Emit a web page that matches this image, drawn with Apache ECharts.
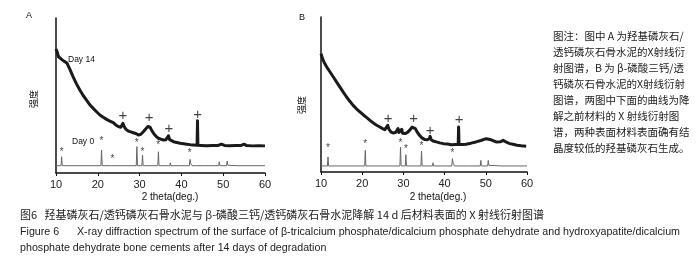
<!DOCTYPE html>
<html><head><meta charset="utf-8">
<script src="https://cdn.jsdelivr.net/npm/echarts@6/dist/echarts.min.js"></script>
<style>html,body{margin:0;padding:0;background:#fff}#c{width:700px;height:268px}</style>
</head><body><div id="c"></div>
<script>
// x range / ticks
const xMin = 10, xMax = 60, xStep = 10;

// Panel A (HA/DCPD) – Day 14 curve, [2theta, intensity a.u.]
const aDay14 = [[10.0,80],[10.3,78],[10.6,75],[11.0,74],[11.5,73],[12.0,72],[12.6,71],[13.3,67],[14.1,62],[14.9,57.5],[15.7,53.5],[16.5,50],[17.3,47],[18.1,44],[18.9,41.7],[19.7,39.5],[20.5,37.4],[21.3,36],[22.1,34.6],[22.9,33.5],[23.7,32.5],[24.3,31],[24.9,30],[25.5,29.5],[25.8,30.5],[26.0,32],[26.3,30],[26.7,28.3],[27.3,27],[27.9,26.5],[28.5,26],[29.1,25.5],[29.7,24.5],[30.3,25],[30.9,26.6],[31.5,28.5],[32.0,30],[32.5,29.5],[33.0,27],[33.5,25],[34.0,23.5],[34.5,22.4],[35.1,21.8],[35.7,21.3],[36.3,21.5],[36.7,22.5],[36.9,24],[37.2,21.5],[37.6,20.6],[38.1,20.2],[38.9,19.7],[39.7,19.2],[40.5,18.9],[41.3,18.6],[42.1,18.3],[42.9,18.1],[43.75,17.9],[43.85,33.7],[43.95,17.9],[44.8,17.8],[46,17.6],[47.5,17.7],[48.8,17.8],[49.6,18.6],[50.3,17.8],[51.5,17.6],[53,17.7],[54.3,17.8],[55.0,18.6],[55.6,17.7],[57,17.5],[58.5,17.6],[60,17.5]];
// Panel A – Day 0 curve
const aDay0 = [[10,4.7],[11.2,4.7],[11.35,10.5],[11.5,4.7],[20.75,4.7],[20.9,14.8],[21.05,4.7],[23.3,4.7],[23.4,5.5],[23.5,4.7],[29.2,4.7],[29.35,17],[29.5,4.7],[30.55,4.7],[30.7,11.6],[30.85,4.7],[34.35,4.7],[34.5,13.7],[34.65,4.7],[37.2,4.7],[37.35,6.6],[37.5,4.7],[39.5,4.7],[39.6,5.3],[39.7,4.7],[41.9,4.7],[42.05,8.8],[42.25,6],[42.4,6.5],[42.55,4.7],[43.6,4.7],[43.7,5.5],[43.8,4.7],[45.5,4.7],[45.6,5.6],[45.8,4.7],[48.9,4.7],[49.05,7.3],[49.2,4.7],[50.8,4.7],[50.95,7.7],[51.1,5],[51.3,6],[51.45,4.7],[53.5,4.7],[53.6,5.4],[53.7,4.7],[60,4.7]];
const aStars = [[11.35,13.7],[20.9,20.2],[23.5,9],[29.3,19.5],[30.7,13.7],[34.45,17.6],[42.0,12.7]];
const aPlus = [[26.0,36.8],[32.3,35.3],[37.0,28.4],[43.9,37.4]];

// Panel B (beta-TCP/DCPD) – Day 14 curve
const bDay14 = [[10,76.4],[10.4,73],[10.8,70.5],[11.4,67.7],[12.2,64.5],[13.0,61.3],[13.8,58],[14.6,54.8],[15.4,51.5],[16.2,48.4],[17.0,45.6],[17.8,43],[18.6,40.8],[19.5,38.7],[20.3,36.8],[21.1,35.1],[21.9,33.3],[22.7,31.6],[23.5,30.2],[24.3,29],[24.9,28],[25.5,27.3],[25.9,27.5],[26.2,30.1],[26.5,27.5],[27.0,25.8],[27.5,25.2],[28.1,25.5],[28.5,25.8],[28.7,28],[28.9,25.5],[29.3,25],[29.6,27.5],[29.8,25],[30.4,24.8],[31.0,25.6],[31.6,27.2],[32.1,29],[32.5,29.5],[32.9,28],[33.4,25.5],[33.9,23.7],[34.5,22],[35.2,20.9],[35.8,20.8],[36.3,21.5],[36.5,23],[36.7,21],[37.2,20],[38.0,19.4],[38.8,18.8],[39.7,18.3],[40.7,18],[41.7,17.6],[42.6,17.7],[43.3,17.8],[43.4,29],[43.5,17.8],[44.4,17.8],[45.2,17.9],[46.4,18.6],[47.6,19.4],[48.8,20.3],[50.1,21.5],[51.3,20.8],[52.5,19.4],[53.5,19.5],[54.2,20.4],[55.0,19.2],[55.8,18.3],[56.6,17.9],[57.6,17.3],[58.6,16.9],[59.8,16.6]];
// Panel B – Day 0 curve
const bDay0 = [[10,3.9],[11.55,3.9],[11.7,9.7],[11.85,3.9],[20.6,3.9],[20.75,14],[20.9,3.9],[23.3,3.9],[23.4,4.6],[23.5,3.9],[29.15,3.9],[29.3,16.1],[29.45,3.9],[30.45,3.9],[30.6,11.2],[30.75,3.9],[34.25,3.9],[34.4,13.5],[34.55,3.9],[37.05,3.9],[37.2,6],[37.35,3.9],[39.6,3.9],[39.7,4.6],[39.8,3.9],[41.75,3.9],[41.9,8.6],[42.1,5.5],[42.25,6],[42.4,3.9],[43.5,3.9],[43.6,4.6],[43.7,3.9],[45.3,3.9],[45.45,4.8],[45.6,3.9],[46,3.9],[46.1,4.5],[46.2,3.9],[48.65,3.9],[48.8,7.5],[48.95,3.9],[50.45,3.9],[50.6,7.5],[50.75,4.3],[51.0,5.5],[51.15,3.9],[53.8,3.9],[53.9,4.5],[54,3.9],[60,3.9]];
const bStars = [[11.7,15.1],[20.7,17.7],[29.3,18.7],[30.6,14.5],[34.4,16.8],[41.9,11.9]];
const bPlus = [[26.3,34.5],[32.5,34.5],[36.5,26.3],[43.5,33.8]];

// texts
const panelLabels = ['A','B'];
const curveLabels = ['Day 14','Day 0'];
const xTitle = '2 theta(deg.)';
const yTitle = '强度';
const noteText = '图注：图中 A 为羟基磷灰石/\n透钙磷灰石骨水泥的X射线衍\n射图谱，B 为 β-磷酸三钙/透\n钙磷灰石骨水泥的X射线衍射\n图谱，两图中下面的曲线为降\n解之前材料的 X 射线衍射图\n谱，两种表面材料表面确有结\n晶度较低的羟基磷灰石生成。';
const captionCN = '图6   羟基磷灰石/透钙磷灰石骨水泥与 β-磷酸三钙/透钙磷灰石骨水泥降解 14 d 后材料表面的 X 射线衍射图谱';
const captionEN1 = 'Figure 6      X-ray diffraction spectrum of the surface of β-tricalcium phosphate/dicalcium phosphate dehydrate and hydroxyapatite/dicalcium';
const captionEN2 = 'phosphate dehydrate bone cements after 14 days of degradation';

const chart = echarts.init(document.getElementById('c'), null, {renderer:'canvas'});
const axisCol = '#111';
const enFont = '"Liberation Sans", Arial, sans-serif';
const enSize = 11.5;
const mctx = document.createElement('canvas').getContext('2d');
mctx.font = enSize + 'px ' + enFont;
const enScale = 660 / mctx.measureText(captionEN1).width;

function xAxisDef(i){
  return {gridIndex:i, type:'value', min:xMin, max:xMax, interval:xStep,
    axisLine:{lineStyle:{color:axisCol,width:1.5}},
    axisTick:{show:true,length:3,lineStyle:{color:axisCol}},
    axisLabel:{color:'#222',fontSize:11,margin:6,fontFamily:'Liberation Sans, Arial'},
    splitLine:{show:false}};
}
function yAxisDef(i){
  return {gridIndex:i, type:'value', min:0, max:100,
    axisLine:{show:true,lineStyle:{color:axisCol,width:1.5}},
    axisTick:{show:false}, axisLabel:{show:false}, splitLine:{show:false}};
}
function lineS(i,data,color,w){
  return {type:'line', xAxisIndex:i, yAxisIndex:i, data:data, symbol:'none', silent:true,
    lineStyle:{color:color,width:w,join:'round'}, animation:false};
}
function markS(i,data,ch,size){
  return {type:'scatter', xAxisIndex:i, yAxisIndex:i, data:data, symbol:'circle', symbolSize:1,
    itemStyle:{color:'transparent'}, silent:true, animation:false,
    label:{show:true, position:'inside', formatter:ch, fontSize:size, color:'#111', fontFamily:'Liberation Sans, Arial'}};
}
const txt = (x,y,t,o)=>Object.assign({type:'text', x:x, y:y, style:Object.assign({text:t, fill:'#111', fontFamily:'Liberation Sans, Arial', fontSize:11}, o||{})});

chart.setOption({
  animation:false,
  grid:[{left:56, top:18, width:209, height:155},{left:321, top:17, width:206, height:155}],
  xAxis:[xAxisDef(0), xAxisDef(1)],
  yAxis:[yAxisDef(0), yAxisDef(1)],
  series:[
    lineS(0,aDay0,'#666',1), lineS(0,aDay14,'#1a1a1a',3),
    lineS(1,bDay0,'#666',1), lineS(1,bDay14,'#1a1a1a',3),
    markS(0,aStars,'*',10), markS(0,aPlus,'+',15),
    markS(1,bStars,'*',10), markS(1,bPlus,'+',15)
  ],
  graphic:[
    txt(29,16,panelLabels[0],{fontSize:9,align:'center',verticalAlign:'middle'}),
    txt(302,18,panelLabels[1],{fontSize:9,align:'center',verticalAlign:'middle'}),
    txt(68,60,curveLabels[0],{fontSize:8.5,verticalAlign:'middle'}),
    txt(72,142,curveLabels[1],{fontSize:8.5,verticalAlign:'middle'}),
    txt(170,197,xTitle,{fontSize:10,align:'center',verticalAlign:'middle'}),
    txt(438,197,xTitle,{fontSize:10,align:'center',verticalAlign:'middle'}),
    Object.assign(txt(34,99,yTitle,{fontSize:9,align:'center',verticalAlign:'middle',fontFamily:'Noto Sans CJK SC'}),{rotation:Math.PI/2}),
    Object.assign(txt(302,105,yTitle,{fontSize:9,align:'center',verticalAlign:'middle',fontFamily:'Noto Sans CJK SC'}),{rotation:Math.PI/2}),
    txt(553,28,noteText,{fontSize:10.5,lineHeight:16,fontFamily:'Noto Sans CJK SC',fill:'#222'}),
    txt(20,215,captionCN,{fontSize:11,verticalAlign:'middle',fontFamily:'Noto Sans CJK SC',fill:'#222'}),
    Object.assign(txt(20,232,captionEN1,{fontSize:enSize,verticalAlign:'middle',fontFamily:enFont,fill:'#222'}),{scaleX:enScale}),
    Object.assign(txt(20,248,captionEN2,{fontSize:enSize,verticalAlign:'middle',fontFamily:enFont,fill:'#222'}),{scaleX:enScale})
  ]
});
</script></body></html>
